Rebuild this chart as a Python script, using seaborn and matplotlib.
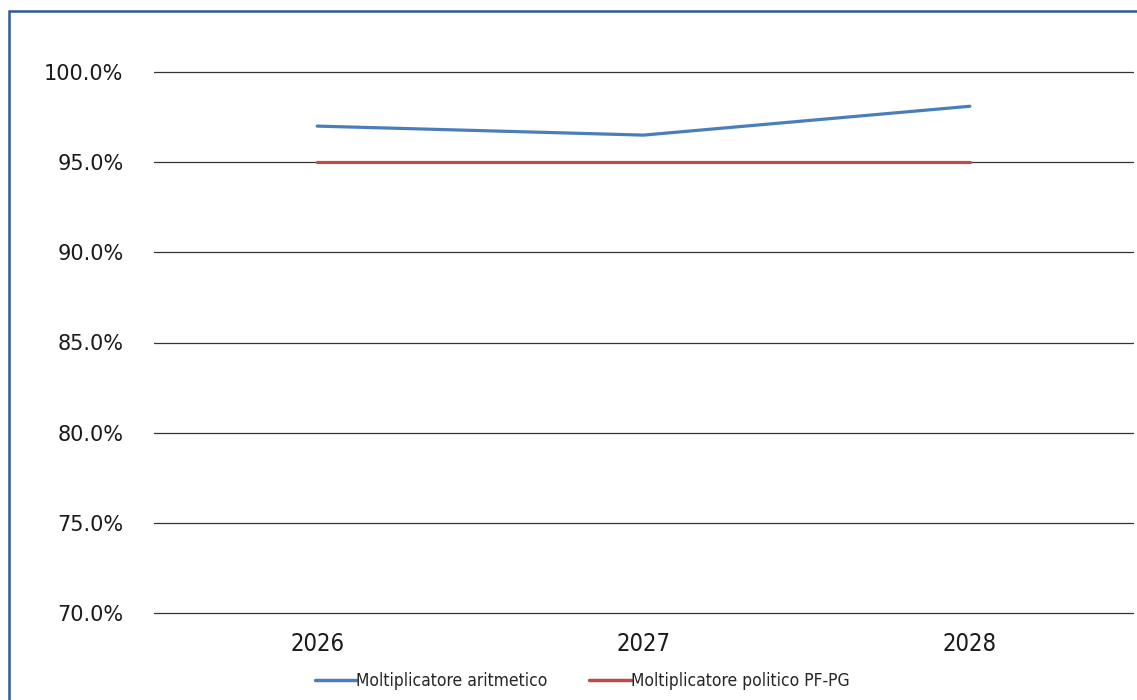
import pandas as pd
import matplotlib.pyplot as plt
import seaborn as sns
from matplotlib.patches import Rectangle
from matplotlib.ticker import PercentFormatter

# data
years = ["2026", "2027", "2028"]
aritmetico = [97.0, 96.5, 98.1]
politico = [95.0, 95.0, 95.0]
series_names = ["Moltiplicatore aritmetico", "Moltiplicatore politico PF-PG"]
colors = ["#4A7EBB", "#BE4B48"]

df = pd.DataFrame({
    "anno": years * 2,
    "valore": aritmetico + politico,
    "serie": [series_names[0]] * 3 + [series_names[1]] * 3,
})

sns.set_style("white")
plt.rcParams["font.family"] = ["DejaVu Sans"]

fig = plt.figure(figsize=(11.37, 7.0), dpi=100)
ax = fig.add_axes([154 / 1137, 1 - 613 / 700, (1133 - 154) / 1137, (613 - 72) / 700])

sns.lineplot(data=df, x="anno", y="valore", hue="serie", palette=colors,
             linewidth=2.3, ax=ax, legend=False, sort=False)

ax.set_ylim(70, 100)
ax.set_xlim(-0.5, 2.5)
ax.set_yticks([70, 75, 80, 85, 90, 95, 100])
ax.yaxis.set_major_formatter(PercentFormatter(decimals=1))
ax.grid(axis="y", color="#333333", linewidth=0.9)
ax.grid(axis="x", visible=False)
for gl in ax.get_ygridlines():
    gl.set_clip_on(False)
ax.set_axisbelow(True)
for s in ax.spines.values():
    s.set_visible(False)
ax.set_xlabel("")
ax.set_ylabel("")
ax.tick_params(axis="y", labelsize=15, pad=22, length=0, colors="#1a1a1a")
ax.tick_params(axis="x", labelsize=17, pad=14, length=0, colors="#1a1a1a")
for lab in ax.get_xticklabels():
    lab.set_fontstretch("condensed")

# legend at the bottom
handles = [plt.Line2D([], [], color=c, linewidth=2.5) for c in colors]
leg = fig.legend(handles, series_names, loc="lower center", bbox_to_anchor=(0.512, -0.008),
                 ncol=2, frameon=False, fontsize=12.5, handlelength=2.4,
                 handletextpad=0.0, columnspacing=2.4)
for t in leg.get_texts():
    t.set_fontstretch("condensed")

# blue outer frame (cut off on the right and bottom)
fig.patches.append(Rectangle((9 / 1137, -0.05), 1.1, 0.984 + 0.05,
                             transform=fig.transFigure, fill=False,
                             edgecolor="#2E5B98", linewidth=1.8))

fig.savefig("out.png", dpi=100)
